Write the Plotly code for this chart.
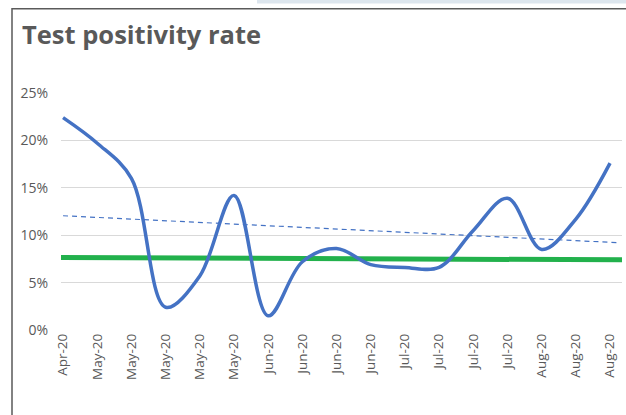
import plotly.graph_objects as go

categories = ["Apr-20", "May-20", "May-20", "May-20", "May-20", "May-20",
              "Jun-20", "Jun-20", "Jun-20", "Jun-20",
              "Jul-20", "Jul-20", "Jul-20", "Jul-20",
              "Aug-20", "Aug-20", "Aug-20"]
positivity = [22.4, 19.7, 16.0, 2.4, 5.7, 14.2, 1.5, 7.2, 8.6, 6.9,
              6.6, 6.6, 10.5, 13.9, 8.5, 11.7, 17.6]
trend_x = [0, 16.3]
trend_y = [12.05, 9.2]
target_y = [7.65, 7.4]
yticks = [0, 5, 10, 15, 20, 25]

x = list(range(len(categories)))
grey = "#595959"

fig = go.Figure()
fig.add_trace(go.Scatter(x=trend_x, y=trend_y, mode="lines",
                         line=dict(color="#4472C4", width=1.2, dash="5px,4px"),
                         hoverinfo="skip"))
fig.add_trace(go.Scatter(x=[-0.06, 16.35], y=target_y, mode="lines",
                         line=dict(color="#22B14C", width=5), hoverinfo="skip"))
fig.add_trace(go.Scatter(x=x, y=positivity, mode="lines",
                         line=dict(color="#4472C4", width=3.5, shape="spline", smoothing=1)))

fig.update_layout(
    width=626, height=415,
    margin=dict(l=61, r=4, t=93, b=85),
    paper_bgcolor="white", plot_bgcolor="white",
    showlegend=False,
    font=dict(family="Open Sans", color=grey, size=13),
    title=dict(text="<b>Test positivity rate</b>", x=22/626, xanchor="left",
               y=1 - 35/415, yanchor="middle",
               font=dict(family="Open Sans", size=25.5, color=grey)),
    xaxis=dict(range=[-0.06, 16.35], tickmode="array", tickvals=x, ticktext=categories,
               tickangle=-90, showgrid=False, zeroline=False, showline=False,
               ticks="", tickfont=dict(size=13.5, color=grey)),
    yaxis=dict(range=[0, 25], tickmode="array", tickvals=yticks,
               ticktext=[f"{v}%" for v in yticks],
               showgrid=True, gridcolor="#D9D9D9", gridwidth=1, zeroline=False,
               showline=False, ticks="", ticklabelstandoff=12,
               tickfont=dict(size=14, color=grey)),
    shapes=[
        dict(type="rect", xref="paper", yref="paper",
             x0=(12 - 61) / 561, x1=1.05, y0=-0.5, y1=(330 - 8.7) / 237,
             line=dict(color="#5A5A5A", width=1.5), fillcolor="rgba(0,0,0,0)", layer="below"),
        dict(type="rect", xref="paper", yref="paper",
             x0=(257 - 61) / 561, x1=1.05, y0=(330 - 0) / 237 + 0.05, y1=(330 - 3.5) / 237,
             line=dict(width=0), fillcolor="#DDE6EE", layer="below"),
    ],
)

fig.write_html("out.html", config={"displayModeBar": False},
               post_script="document.body.style.margin='0';document.body.style.overflow='hidden';")
